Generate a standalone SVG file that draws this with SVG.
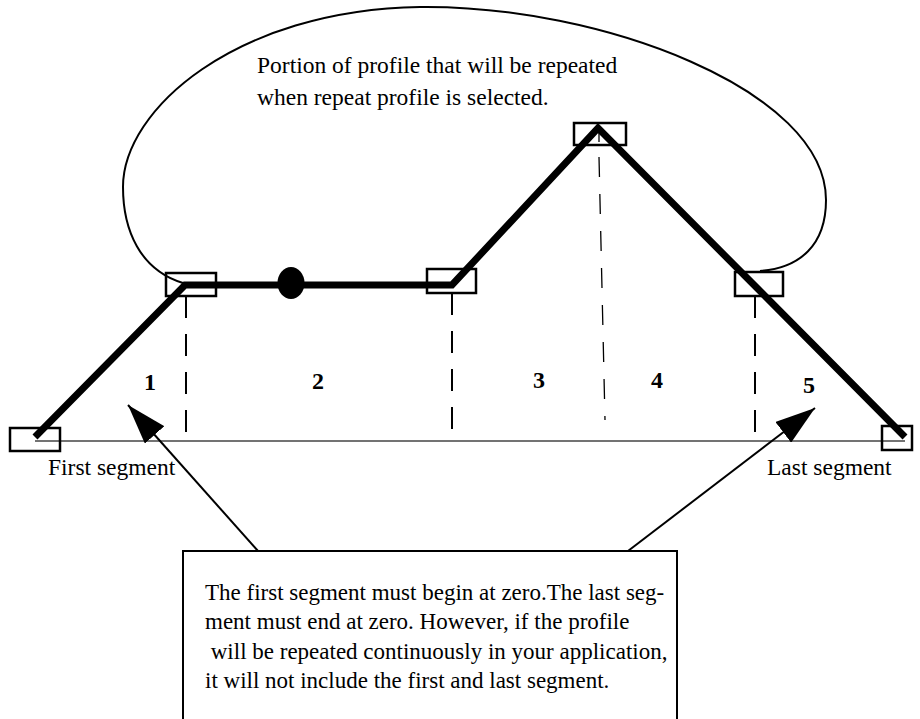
<svg xmlns="http://www.w3.org/2000/svg" width="920" height="719" viewBox="0 0 920 719">
<style>
text{font-family:"Liberation Serif","Times New Roman",serif;fill:#000}
.t{font-size:23.5px}
.c{font-size:23px}
.n{font-size:24px;font-weight:bold}
.box{fill:none;stroke:#000;stroke-width:2.5}
.dash{stroke:#000;stroke-width:2;stroke-dasharray:22 16;fill:none}
.prof{fill:none;stroke:#000;stroke-width:7;stroke-linejoin:miter}
.arr{stroke:#000;stroke-width:2;fill:none}
</style>
<defs>
<marker id="ah" viewBox="0 0 40 26" refX="40" refY="13" markerWidth="40" markerHeight="26" markerUnits="userSpaceOnUse" orient="auto">
<path d="M0,0 L40,13 L0,26 Z" fill="#000"/>
</marker>
</defs>
<g id="loop">
<path d="M183,283 C140,270 123,230 123,187 C123,110 235,10 420,7 C600,5 826,90 826,200 C826,245 800,268 760,271" fill="none" stroke="#000" stroke-width="2"/>
<text class="t" x="257" y="73">Portion of profile that will be repeated</text>
<text class="t" x="257" y="105">when repeat profile is selected.</text>
</g>
<g id="baseline">
<line x1="35" y1="441" x2="905" y2="441" stroke="#444" stroke-width="1.5"/>
</g>
<g id="dashes">
<line class="dash" x1="186" y1="296" x2="186" y2="441"/>
<line class="dash" x1="452" y1="293" x2="452" y2="441"/>
<line class="dash" x1="755" y1="296" x2="755" y2="441"/>
<line x1="599" y1="157" x2="605" y2="420" stroke="#000" stroke-width="1.3" stroke-dasharray="20 17"/>
<line x1="599" y1="133" x2="599" y2="142" stroke="#000" stroke-width="1.3"/>
</g>
<g id="profile">
<polyline class="prof" points="35,437 185,285 452,285 598,128 905,437"/>
<ellipse cx="291" cy="283" rx="13.5" ry="16" fill="#000"/>
</g>
<g id="points">
<rect class="box" x="10" y="428" width="50" height="23"/>
<rect class="box" x="166" y="273" width="50" height="23"/>
<rect class="box" x="427" y="269" width="49" height="24"/>
<rect class="box" x="574" y="123" width="52" height="22"/>
<rect class="box" x="735" y="272" width="48" height="24"/>
<rect class="box" x="882" y="426" width="30" height="24"/>
</g>
<g id="labels">
<text class="n" x="150" y="390" text-anchor="middle">1</text>
<text class="n" x="318" y="389" text-anchor="middle">2</text>
<text class="n" x="539" y="388" text-anchor="middle">3</text>
<text class="n" x="657" y="388" text-anchor="middle">4</text>
<text class="n" x="809" y="393" text-anchor="middle">5</text>
<text class="t" x="48" y="475">First segment</text>
<text class="t" x="767" y="475">Last segment</text>
</g>
<g id="callout">
<rect x="183" y="551" width="494" height="180" fill="#fff" stroke="#000" stroke-width="2"/>
<text class="c" x="205" y="600">The first segment must begin at zero.The last seg-</text>
<text class="c" x="205" y="629">ment must end at zero. However, if the profile</text>
<text class="c" x="205" y="659" xml:space="preserve"> will be repeated continuously in your application,</text>
<text class="c" x="205" y="688">it will not include the first and last segment.</text>
</g>
<g id="connectors">
<line class="arr" x1="258" y1="551" x2="128" y2="405" marker-end="url(#ah)"/>
<line class="arr" x1="628" y1="551" x2="815" y2="408" marker-end="url(#ah)"/>
</g>
</svg>
